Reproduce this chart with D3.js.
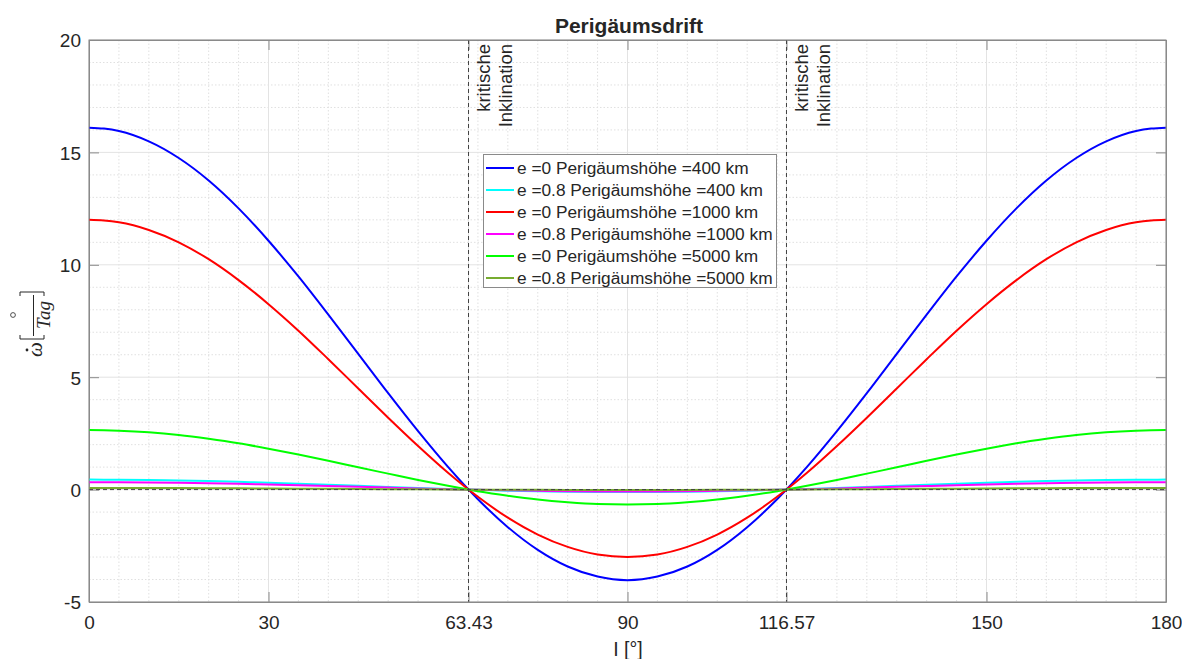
<!DOCTYPE html>
<html><head><meta charset="utf-8">
<script src="https://cdn.jsdelivr.net/npm/d3@7"></script>
<style>
html,body{margin:0;padding:0;background:#fff;}
svg{display:block;}
text{font-family:"Liberation Sans",Arial,Helvetica,sans-serif;fill:#262626;}
</style></head>
<body><svg id="c" width="1182" height="659"></svg>
<script>
// ---- data ----
const inclination = [0,2.5,5,10,15,20,25,30,35,40,45,50,55,60,65,70,75,80,85,90,95,100,105,110,115,120,125,130,135,140,145,150,155,160,165,170,175,177.5,180];
const sBlue    = [16.10,16.06,15.95,15.49,14.75,13.75,12.51,11.07,9.48,7.78,6.04,4.29,2.60,1.01,-0.43,-1.67,-2.68,-3.42,-3.87,-4.03,-3.87,-3.42,-2.68,-1.67,-0.43,1.01,2.60,4.29,6.04,7.78,9.48,11.07,12.51,13.75,14.75,15.49,15.95,16.06,16.10];
const sCyan    = [0.444,0.443,0.440,0.427,0.407,0.379,0.345,0.305,0.261,0.215,0.167,0.118,0.072,0.028,-0.012,-0.046,-0.074,-0.094,-0.107,-0.111,-0.107,-0.094,-0.074,-0.046,-0.012,0.028,0.072,0.118,0.167,0.215,0.261,0.305,0.345,0.379,0.407,0.427,0.440,0.443,0.444];
const sRed     = [12.00,11.97,11.89,11.55,11.00,10.25,9.32,8.25,7.07,5.80,4.50,3.20,1.94,0.75,-0.32,-1.25,-2.00,-2.55,-2.89,-3.00,-2.89,-2.55,-2.00,-1.25,-0.32,0.75,1.94,3.20,4.50,5.80,7.07,8.25,9.32,10.25,11.00,11.55,11.89,11.97,12.00];
const sMagenta = [0.331,0.330,0.328,0.319,0.303,0.283,0.257,0.228,0.195,0.160,0.124,0.088,0.053,0.021,-0.009,-0.034,-0.055,-0.070,-0.080,-0.083,-0.080,-0.070,-0.055,-0.034,-0.009,0.021,0.053,0.088,0.124,0.160,0.195,0.228,0.257,0.283,0.303,0.319,0.328,0.330,0.331];
const sGreen   = [2.65,2.64,2.62,2.55,2.43,2.26,2.06,1.82,1.56,1.28,0.99,0.71,0.43,0.17,-0.07,-0.27,-0.44,-0.56,-0.64,-0.66,-0.64,-0.56,-0.44,-0.27,-0.07,0.17,0.43,0.71,0.99,1.28,1.56,1.82,2.06,2.26,2.43,2.55,2.62,2.64,2.65];
const sOlive   = [0.073,0.073,0.072,0.070,0.067,0.062,0.057,0.050,0.043,0.035,0.027,0.020,0.012,0.005,-0.002,-0.008,-0.012,-0.016,-0.018,-0.018,-0.018,-0.016,-0.012,-0.008,-0.002,0.005,0.012,0.020,0.027,0.035,0.043,0.050,0.057,0.062,0.067,0.070,0.072,0.073,0.073];
const seriesNames = ["e =0 Perigäumshöhe =400 km","e =0.8 Perigäumshöhe =400 km","e =0 Perigäumshöhe =1000 km","e =0.8 Perigäumshöhe =1000 km","e =0 Perigäumshöhe =5000 km","e =0.8 Perigäumshöhe =5000 km"];
const seriesColors = ["#0000ff","#00ffff","#ff0000","#ff00ff","#00ff00","#77ac30"];
const seriesValues = [sBlue,sCyan,sRed,sMagenta,sGreen,sOlive];
const xTicks = [0,30,63.43,90,116.57,150,180];
const xTickLabels = ["0","30","63.43","90","116.57","150","180"];
const yTicks = [-5,0,5,10,15,20];
const yTickLabels = ["-5","0","5","10","15","20"];
const criticalInclination = [63.43,116.57];
const critLabel = ["kritische","Inklination"];

// ---- layout ----
const L=89, R=1166, T=40, B=602;
const x = d3.scaleLinear().domain([0,180]).range([L,R]);
const y = d3.scaleLinear().domain([-5,20]).range([B,T]);
const svg = d3.select("#c");

// minor grid
const minorX = d3.range(5,180,5).filter(v=>v%30!==0);
const minorY = d3.range(-5,21,1).filter(v=>v%5!==0);
const g = svg.append("g");
g.selectAll(".mx").data(minorX).join("line")
  .attr("x1",d=>x(d)).attr("x2",d=>x(d)).attr("y1",T).attr("y2",B)
  .attr("stroke","#e0e0e0").attr("stroke-dasharray","1.5,2").attr("stroke-width",1);
g.selectAll(".my").data(minorY).join("line")
  .attr("y1",d=>y(d)).attr("y2",d=>y(d)).attr("x1",L).attr("x2",R)
  .attr("stroke","#e0e0e0").attr("stroke-dasharray","1.5,2").attr("stroke-width",1);
// major grid
g.selectAll(".Mx").data(xTicks).join("line")
  .attr("x1",d=>x(d)).attr("x2",d=>x(d)).attr("y1",T).attr("y2",B)
  .attr("stroke","#e3e3e3").attr("stroke-width",1);
g.selectAll(".My").data(yTicks).join("line")
  .attr("y1",d=>y(d)).attr("y2",d=>y(d)).attr("x1",L).attr("x2",R)
  .attr("stroke","#e3e3e3").attr("stroke-width",1);

// axes
const axCol="#8a8a8a";
const xb = svg.append("g").attr("transform",`translate(0,${B})`)
  .call(d3.axisBottom(x).tickValues(xTicks).tickFormat((d,i)=>xTickLabels[i]).tickSizeInner(-10).tickSizeOuter(0).tickPadding(14));
const xt = svg.append("g").attr("transform",`translate(0,${T})`)
  .call(d3.axisTop(x).tickValues(xTicks).tickFormat("").tickSizeInner(-10).tickSizeOuter(0));
const yl = svg.append("g").attr("transform",`translate(${L},0)`)
  .call(d3.axisLeft(y).tickValues(yTicks).tickFormat((d,i)=>yTickLabels[i]).tickSizeInner(-10).tickSizeOuter(0).tickPadding(8));
const yr = svg.append("g").attr("transform",`translate(${R},0)`)
  .call(d3.axisRight(y).tickValues(yTicks).tickFormat("").tickSizeInner(-10).tickSizeOuter(0));
[xb,xt,yl,yr].forEach(a=>{
  a.select(".domain").attr("stroke",axCol);
  a.selectAll(".tick line").attr("stroke",axCol);
  a.selectAll(".tick text").attr("fill","#262626").style("font-size","19px").style("font-family",'"Liberation Sans",Arial,sans-serif');
});
yl.selectAll(".tick text").attr("dy","0.36em");

// series lines
const line = d3.line().x((d,i)=>x(inclination[i])).y(d=>y(d)).curve(d3.curveMonotoneX);
svg.append("g").selectAll("path").data(seriesValues).join("path")
  .attr("d",d=>line(d)).attr("fill","none")
  .attr("stroke",(d,i)=>seriesColors[i]).attr("stroke-width",2);

// reference lines
svg.append("line").attr("x1",L).attr("x2",R).attr("y1",y(0)).attr("y2",y(0))
  .attr("stroke","#404040").attr("stroke-width",1).attr("stroke-dasharray","4,3");
svg.append("g").selectAll("line").data(criticalInclination).join("line")
  .attr("x1",d=>x(d)).attr("x2",d=>x(d)).attr("y1",T).attr("y2",B)
  .attr("stroke","#404040").attr("stroke-width",1).attr("stroke-dasharray","4,3");
criticalInclination.forEach(c=>{
  critLabel.forEach((t,j)=>{
    svg.append("text").attr("transform",`translate(${x(c)+21.5+22*j},44) rotate(-90)`)
      .attr("text-anchor","end").style("font-size","18.5px").text(t);
  });
});

// box on top
svg.append("rect").attr("x",L).attr("y",T).attr("width",R-L).attr("height",B-T)
  .attr("fill","none").attr("stroke",axCol).attr("stroke-width",1);

// legend
const lg = svg.append("g");
lg.append("rect").attr("x",483.5).attr("y",154.5).attr("width",293).attr("height",133)
  .attr("fill","#fff").attr("stroke","#8a8a8a").attr("stroke-width",1);
seriesNames.forEach((n,i)=>{
  const cy = 168+22*i;
  lg.append("line").attr("x1",486).attr("x2",514).attr("y1",cy).attr("y2",cy)
    .attr("stroke",seriesColors[i]).attr("stroke-width",2);
  lg.append("text").attr("x",517).attr("y",cy).attr("dy","0.36em").style("font-size","17.3px").text(n);
});

// title
svg.append("text").attr("x",629).attr("y",33).attr("text-anchor","middle")
  .style("font-size","21px").style("font-weight","bold").attr("fill","#000").text("Perigäumsdrift");
// x label
svg.append("text").attr("x",628).attr("y",656).attr("text-anchor","middle")
  .style("font-size","19.5px").text("I [°]");

// y label (LaTeX-like): \dot{\omega} [\frac{\circ}{Tag}]
const ylab = svg.append("g").attr("transform","translate(42,325) rotate(-90)");
const serif = '"Liberation Serif","Times New Roman",serif';
ylab.append("text").attr("x",-32).attr("y",0).style("font-family",serif).style("font-style","italic").style("font-size","21px").text("ω");
ylab.append("circle").attr("cx",-25).attr("cy",-15).attr("r",1.4).attr("fill","#262626");
ylab.append("path").attr("d","M-10,-22 L-14,-22 L-14,2 L-10,2").attr("fill","none").attr("stroke","#262626").attr("stroke-width",1);
ylab.append("path").attr("d","M29,-22 L33,-22 L33,2 L29,2").attr("fill","none").attr("stroke","#262626").attr("stroke-width",1);
ylab.append("line").attr("x1",-11).attr("x2",30).attr("y1",-8.5).attr("y2",-8.5).attr("stroke","#262626").attr("stroke-width",1);
ylab.append("circle").attr("cx",10).attr("cy",-29).attr("r",2.4).attr("fill","none").attr("stroke","#262626").attr("stroke-width",0.8);
ylab.append("text").attr("x",10).attr("y",8).attr("text-anchor","middle").style("font-family",serif).style("font-style","italic").style("font-size","19px").text("Tag");
</script></body></html>
